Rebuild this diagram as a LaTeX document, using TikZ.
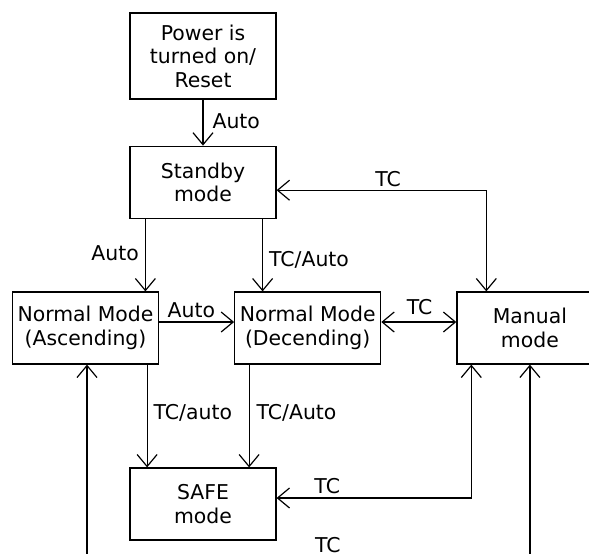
\documentclass[tikz,border=0pt]{standalone}
\usepackage{fontspec}
\setmainfont{DejaVu Sans}
\usetikzlibrary{positioning,arrows.meta,calc}

\begin{document}
\begin{tikzpicture}[
  x=1pt, y=-1pt,
  node distance=37.5pt,
  font=\fontsize{10.2}{11.75}\selectfont,
  mode/.style={draw, line width=0.6pt, align=center, inner sep=2pt,
               minimum width=73pt, minimum height=36pt},
  arr/.style={-{Straight Barb[length=6pt,width=10pt]}, line width=0.6pt},
  both/.style={arr, {Straight Barb[length=6pt,width=10pt]}-{Straight Barb[length=6pt,width=10pt]}},
  lbl/.style={inner sep=1.5pt}
]
\useasboundingbox (0,0) rectangle (294.5,276.5);
% start-up
\node[mode, minimum height=43pt] (power) at (101.5,28) {Power is\\turned on/\\Reset};
\node[mode, below=23pt of power] (standby) {Standby\\mode};
% middle row of modes
\node[mode] (asc) at (42.75,164) {Normal Mode\\(Ascending)};
\node[mode, right=of asc] (dec) {Normal Mode\\(Decending)};
\node[mode, right=of dec] (manual) {Manual\\mode};
% fallback
\node[mode] (safe) at (101.5,252) {SAFE\\mode};

% downward flow
\draw[arr] (power) -- node[lbl, right=3pt, pos=0.46]{Auto} (standby);
\draw[arr] ([xshift=8pt]standby.south west)
  -- node[lbl, left=1.5pt, pos=0.48]{Auto} ([xshift=8pt]standby.south west |- asc.north);
\draw[arr] ([xshift=-7pt]standby.south east)
  -- node[lbl, right=1.5pt, pos=0.57]{TC/Auto} ([xshift=-7pt]standby.south east |- dec.north);
\draw[arr] ([yshift=3pt]asc.east) -- node[lbl, above=0.3pt, pos=0.43]{Auto} ([yshift=3pt]dec.west);
\draw[arr] ([xshift=-6pt]asc.south east)
  -- node[lbl, right=1.5pt, pos=0.47]{TC/auto} ([xshift=-6pt]asc.south east |- safe.north);
\draw[arr] ([xshift=7.5pt]dec.south west)
  -- node[lbl, right=2pt, pos=0.47]{TC/Auto} ([xshift=7.5pt]dec.south west |- safe.north);
% telecommand links to manual mode
\draw[both] ([yshift=3pt]dec.east) -- node[lbl, above=1.8pt, pos=0.51]{TC} ([yshift=3pt]manual.west);
\draw[both] ([yshift=-4pt]standby.east) -| node[lbl, above=0pt, pos=0.266]{TC} ([xshift=15pt]manual.north west);
\draw[both] ([xshift=7.5pt]manual.south west) |- node[lbl, above=0.3pt, pos=0.87]{TC} ([yshift=3pt]safe.east);
% return loop below the page edge
\draw[both] ([xshift=0.75pt]asc.south) -- ++(0,97) -| node[lbl, above=1.3pt, pos=0.272]{TC} (manual.south);
\end{tikzpicture}
\end{document}
